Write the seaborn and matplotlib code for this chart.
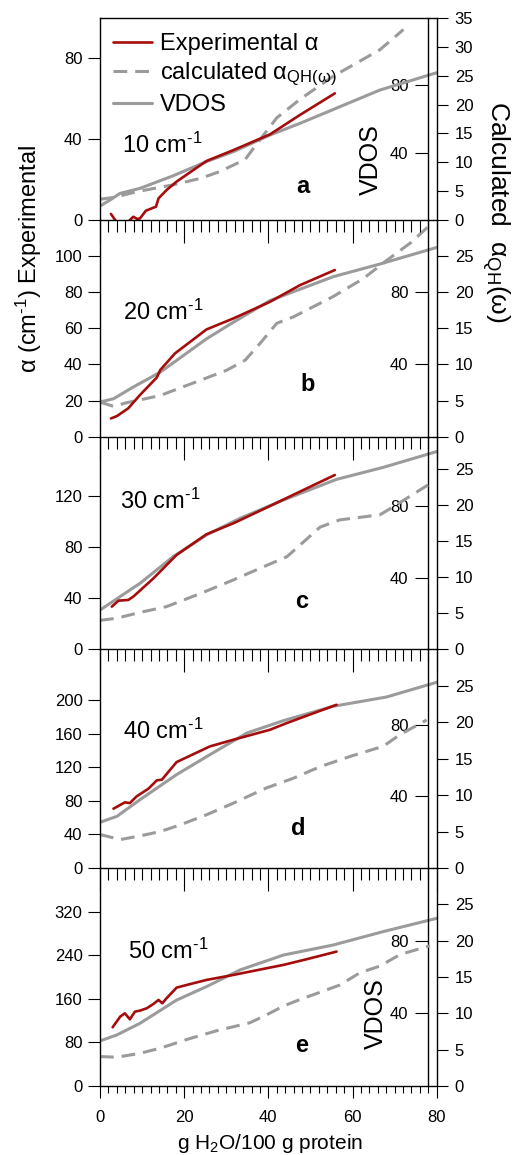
import matplotlib
matplotlib.use("Agg")
import matplotlib.pyplot as plt
import seaborn as sns
from matplotlib.ticker import MultipleLocator

# ---------------- data ----------------
freqs = [10, 20, 30, 40, 50]
letters = ["a", "b", "c", "d", "e"]

# panel a : 10 cm-1
exp_x_10 = [2.6, 3.6, 4.5, 6.5, 7.1, 7.9, 8.9, 9.5, 10.9, 13.3, 13.9, 15.8, 18.2, 25.3, 31.7, 40.4, 47.5, 55.8]
exp_y_10 = [3.0, 0.0, -3.0, -2.0, 0.0, 1.6, 0.5, 0.8, 4.6, 6.6, 10.7, 14.8, 19.0, 29.2, 34.6, 42.4, 52.0, 62.7]
vdos_x_10 = [0, 2.4, 4.75, 9.5, 17.4, 25.3, 31.7, 40.4, 47.5, 57.0, 66.5, 80]
vdos_y_10 = [8.3, 11.9, 15.8, 18.8, 26.3, 34.7, 40.6, 50.5, 57.4, 67.3, 77.2, 87.5]
calc_x_10 = [0, 3.2, 8.7, 17.4, 23.8, 28.5, 34.5, 38.0, 42.0, 47.5, 55.4, 66.5, 72.1]
calc_y_10 = [3.6, 3.9, 4.9, 6.1, 7.2, 8.4, 10.5, 13.9, 17.7, 20.9, 24.9, 29.5, 33.0]

# panel b : 20 cm-1
exp_x_20 = [2.6, 4.0, 6.7, 9.5, 13.5, 14.3, 17.8, 25.3, 31.7, 40.4, 47.5, 55.8]
exp_y_20 = [10.1, 11.4, 15.7, 23.1, 32.8, 36.9, 46.1, 59.4, 65.5, 74.7, 83.9, 92.3]
vdos_x_20 = [0, 3.2, 7.9, 14.3, 25.3, 31.7, 40.4, 55.4, 66.5, 80]
vdos_y_20 = [19.2, 21.0, 27.5, 35.7, 54.2, 63.4, 75.4, 88.6, 95.6, 104.8]
calc_x_20 = [0, 3.2, 6.3, 14.3, 23.8, 30.1, 34.5, 38.0, 42.0, 46.0, 55.4, 62.6, 68.1, 73.7, 78.4]
calc_y_20 = [4.8, 4.2, 4.7, 5.7, 7.8, 9.2, 10.6, 12.9, 15.7, 16.6, 19.4, 21.9, 24.4, 26.8, 29.3]

# panel c : 30 cm-1
exp_x_30 = [2.8, 4.4, 6.7, 7.9, 12.7, 18.2, 25.3, 31.7, 40.4, 47.5, 55.8]
exp_y_30 = [33.3, 38.0, 38.5, 41.1, 55.4, 73.7, 89.8, 98.4, 111.9, 123.1, 136.1]
vdos_x_30 = [0, 9.5, 17.4, 25.3, 33.3, 43.6, 56.2, 67.3, 80]
vdos_y_30 = [21.9, 36.8, 51.7, 63.8, 73.1, 83.3, 94.8, 101.5, 110.3]
calc_x_30 = [0, 4.0, 9.5, 15.8, 23.8, 31.7, 39.6, 44.4, 47.5, 52.3, 57.0, 66.5, 69.7, 72.1, 78.4]
calc_y_30 = [4.0, 4.3, 5.1, 5.9, 7.7, 9.6, 11.6, 12.8, 14.4, 16.9, 17.9, 18.6, 19.7, 20.6, 22.9]

# panel d : 40 cm-1
exp_x_40 = [3.2, 5.9, 7.1, 8.7, 11.5, 13.5, 14.7, 18.2, 26.1, 31.7, 40.4, 44.4, 49.1, 56.2]
exp_y_40 = [70.8, 78.3, 77.5, 85.5, 94.6, 104.6, 105.4, 126.4, 145.1, 153.1, 165.0, 173.0, 181.7, 194.8]
vdos_x_40 = [0, 4.0, 9.5, 18.2, 26.1, 34.9, 43.6, 55.4, 68.1, 80]
vdos_y_40 = [25.5, 28.8, 38.1, 52.1, 63.2, 75.3, 82.2, 90.2, 95.4, 103.6]
calc_x_40 = [0, 4.8, 9.5, 14.3, 19.0, 25.3, 31.7, 39.6, 45.9, 52.3, 59.4, 67.3, 71.3, 77.6]
calc_y_40 = [4.6, 3.9, 4.4, 5.0, 5.9, 7.3, 8.9, 11.0, 12.3, 13.9, 15.3, 16.7, 18.3, 20.3]

# panel e : 50 cm-1
exp_x_50 = [3.0, 4.8, 5.9, 7.1, 8.3, 9.5, 11.1, 12.7, 13.9, 14.8, 15.8, 18.2, 20.6, 25.3, 31.7, 40.4, 43.6, 49.1, 56.2]
exp_y_50 = [107.7, 127.3, 133.4, 122.4, 136.5, 138.3, 142.6, 150.6, 157.9, 151.8, 161.0, 180.5, 185.4, 194.6,
            203.8, 217.3, 222.2, 232.6, 246.6]
vdos_x_50 = [0, 4.0, 9.5, 18.2, 25.3, 33.3, 43.6, 55.4, 67.3, 80]
vdos_y_50 = [24.8, 28.1, 34.5, 47.3, 54.7, 63.9, 72.1, 77.6, 85.0, 92.3]
calc_x_50 = [0, 4.0, 9.5, 14.3, 20.6, 27.7, 35.6, 39.6, 43.6, 47.5, 52.3, 57.0, 61.8, 66.5, 71.3, 78.4]
calc_y_50 = [4.05, 3.96, 4.5, 5.2, 6.4, 7.6, 8.7, 9.8, 11.0, 11.9, 12.9, 13.9, 15.6, 16.5, 18.1, 19.3]

# axis ticks
left_ticks = [[0, 40, 80], [0, 20, 40, 60, 80, 100], [0, 40, 80, 120],
              [0, 40, 80, 120, 160, 200], [0, 80, 160, 240, 320]]
calc_ticks_a = [0, 5, 10, 15, 20, 25, 30, 35]
calc_ticks = [0, 5, 10, 15, 20, 25]
vdos_ticks = [40, 80]
x_ticklabels = [0, 20, 40, 60, 80]

panels = [
    (exp_x_10, exp_y_10, vdos_x_10, vdos_y_10, calc_x_10, calc_y_10),
    (exp_x_20, exp_y_20, vdos_x_20, vdos_y_20, calc_x_20, calc_y_20),
    (exp_x_30, exp_y_30, vdos_x_30, vdos_y_30, calc_x_30, calc_y_30),
    (exp_x_40, exp_y_40, vdos_x_40, vdos_y_40, calc_x_40, calc_y_40),
    (exp_x_50, exp_y_50, vdos_x_50, vdos_y_50, calc_x_50, calc_y_50),
]

# ---------------- layout / style ----------------
left_top = [100, 120, 166, 261, 400]
calc_top = [35, 30, 29.4, 30, 30]
vdos_top = [120, 120, 118.6, 122, 120]
tops = [18, 220, 436.7, 649.3, 868]
bottoms = [220, 436.7, 649.3, 868, 1086]

RED = "#A50D0D"
GRAY = "#9B9B9B"
W, H = 513, 1155

sns.set_style("ticks")
plt.rcParams["font.family"] = ["Liberation Sans", "DejaVu Sans"]
plt.rcParams.update({
    "mathtext.fontset": "custom",
    "mathtext.rm": "Liberation Sans",
    "mathtext.it": "Liberation Sans:italic",
    "mathtext.bf": "Liberation Sans:bold",
    "axes.edgecolor": "black",
    "xtick.color": "black",
    "ytick.color": "black",
    "text.color": "black",
    "axes.linewidth": 1.0,
})

fig = plt.figure(figsize=(W / 100, H / 100), dpi=100)


def fx(px):
    return px / W


def fy(py):
    return 1 - py / H


SUP = r"$^{\mathregular{\text{-}1}}$"

x_left, x_right = 100, 436.7
handles = None
for i, (ex, ey, vx, vy, cx, cy) in enumerate(panels):
    ax = fig.add_axes([fx(x_left), fy(bottoms[i]), (x_right - x_left) / W, (bottoms[i] - tops[i]) / H])
    ax_v = ax.twinx()
    ax_c = ax.twinx()
    ax.set_zorder(3)
    ax_c.set_zorder(2)
    ax_v.set_zorder(1)
    ax.patch.set_visible(False)

    sns.lineplot(x=vx, y=vy, ax=ax_v, color=GRAY, lw=2.2, estimator=None, sort=False)
    sns.lineplot(x=cx, y=cy, ax=ax_c, color=GRAY, lw=2.2, estimator=None, sort=False,
                 linestyle=(0, (4.5, 2.6)))
    sns.lineplot(x=ex, y=ey, ax=ax, color=RED, lw=1.9, estimator=None, sort=False)
    if i == 0:
        handles = [ax.lines[-1], ax_c.lines[-1], ax_v.lines[-1]]

    for a in (ax, ax_v, ax_c):
        a.set_xlim(0, 80)
        a.set_xlabel("")
        a.set_ylabel("")
    ax.set_ylim(0, left_top[i])
    ax_c.set_ylim(0, calc_top[i])
    ax_v.set_ylim(0, vdos_top[i])

    # main axis
    ax.spines["right"].set_visible(False)
    ax.spines["top"].set_visible(i == 0)
    ax.set_yticks(left_ticks[i])
    ax.tick_params(axis="y", direction="out", length=8.6, width=0.8, pad=4, labelsize=12)
    ax.xaxis.set_major_locator(MultipleLocator(20))
    ax.xaxis.set_minor_locator(MultipleLocator(2))
    if i < 4:
        ax.tick_params(axis="x", which="major", direction="out", length=16.5, width=0.8, labelbottom=False)
        ax.tick_params(axis="x", which="minor", direction="out", length=8.6, width=0.8)
    else:
        ax.set_xticks(x_ticklabels)
        ax.tick_params(axis="x", which="major", direction="out", length=8.6, width=0.8, labelsize=12, pad=9)
        ax.tick_params(axis="x", which="minor", direction="out", length=5, width=0.8)

    # calculated axis (right, outward)
    for s in ("left", "top", "bottom"):
        ax_c.spines[s].set_visible(False)
    ax_c.set_yticks(calc_ticks_a if i == 0 else calc_ticks)
    ax_c.tick_params(axis="y", direction="out", length=8, width=0.8, pad=5, labelsize=12)

    # VDOS axis (free axis near x=78, ticks pointing left)
    for s in ("right", "top", "bottom"):
        ax_v.spines[s].set_visible(False)
    ax_v.spines["left"].set_visible(True)
    ax_v.spines["left"].set_position(("axes", 0.975))
    ax_v.yaxis.tick_left()
    ax_v.set_yticks(vdos_ticks)
    ax_v.tick_params(axis="y", direction="out", length=9.4, width=0.8, pad=5, labelsize=12)

    # panel annotations
    fig.text(fx([122, 123, 120, 123, 128][i]), fy([153, 320, 509, 739, 959][i]),
             f"{freqs[i]} cm" + SUP, fontsize=17, ha="left", va="baseline")
    fig.text(fx([303, 308, 302, 298, 302][i]), fy([193, 391, 608, 835, 1052][i]),
             letters[i], fontsize=17, fontweight="bold", ha="center", va="baseline")

# VDOS inner labels
fig.text(fx(371), fy(160), "VDOS", rotation=90, fontsize=18, ha="center", va="center")
fig.text(fx(376), fy(1014), "VDOS", rotation=90, fontsize=18, ha="center", va="center")

# axis titles
fig.text(fx(29), fy(259), "α (cm" + SUP + ") Experimental", rotation=90,
         fontsize=17, ha="center", va="center")
fig.text(fx(496), fy(212), r"Calculated  α$_{\mathregular{QH}}\mathregular{(\omega)}$", rotation=270,
         fontsize=19, ha="center", va="center")
fig.text(fx(270), fy(1149), r"g H$_{\mathregular{2}}$O/100 g protein", fontsize=15,
         ha="center", va="baseline")

fig.legend(handles, ["Experimental α", r"calculated α$_{\mathregular{QH(\omega)}}$", "VDOS"],
           loc="upper left", bbox_to_anchor=(fx(113), fy(33)), frameon=False, fontsize=17,
           handlelength=1.65, handletextpad=0.35, labelspacing=0.25, borderpad=0, borderaxespad=0)

fig.savefig("out.png", dpi=100)
